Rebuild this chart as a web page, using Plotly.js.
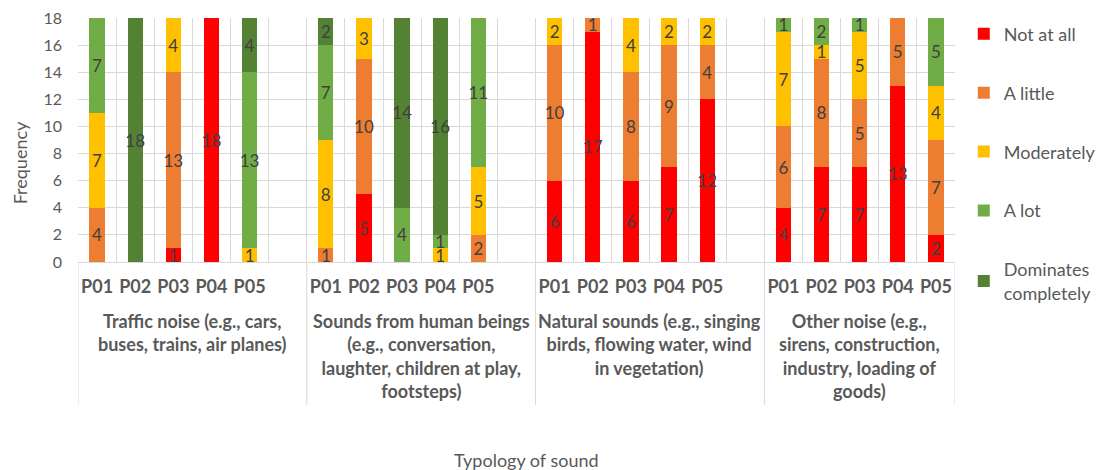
<!DOCTYPE html>
<html>
<head>
<meta charset="utf-8">
<script src="https://cdn.plot.ly/plotly-3.0.1.min.js"></script>
<style>html,body{margin:0;padding:0;background:#fff;}#chart{width:1102px;height:470px;}</style>
</head>
<body>
<div id="chart"></div>
<script>
// ---- data ----
const groups = [
  "Traffic noise (e.g., cars,<br>buses, trains, air planes)",
  "Sounds from human beings<br>(e.g., conversation,<br>laughter, children at play,<br>footsteps)",
  "Natural sounds (e.g., singing<br>birds, flowing water, wind<br>in vegetation)",
  "Other noise (e.g.,<br>sirens, construction,<br>industry, loading of<br>goods)"
];
const participants = ["P01", "P02", "P03", "P04", "P05"];
const seriesNames = ["Not at all", "A little", "Moderately", "A lot", "Dominates<br>completely"];
// values ordered group by group, P01..P05 within each group
const notAtAll   = [0,0,1,18,0,  0,5,0,0,0,    6,17,6,7,12, 4,7,7,13,2];
const aLittle    = [4,0,13,0,0,  1,10,0,0,2,   10,1,8,9,4,  6,8,5,5,7];
const moderately = [7,0,4,0,1,   8,3,0,1,5,    2,0,4,2,2,   7,1,5,0,4];
const aLot       = [7,0,0,0,13,  7,0,4,1,11,   0,0,0,0,0,   1,2,1,0,5];
const dominates  = [0,18,0,0,4,  2,0,14,16,0,  0,0,0,0,0,   0,0,0,0,0];
const yTicks = [0,2,4,6,8,10,12,14,16,18];

// ---- styles ----
const colors = ["#FF0000", "#ED7D31", "#FFC000", "#70AD47", "#548235"];
const FONT = "Lato, 'Liberation Sans', sans-serif";
const GREY = "#595959";
const GRID = "#d9d9d9";
const SLOTS = participants.length + 1; // 5 bars + 1 blank per group

const xPos = [];
const xTickVals = [], xTickText = [];
groups.forEach((g, gi) => {
  participants.forEach((p, pi) => {
    xPos.push(gi * SLOTS + pi);
    xTickVals.push(gi * SLOTS + pi);
    xTickText.push(p);
  });
});
const nSlots = groups.length * SLOTS - 1;

const allSeries = [notAtAll, aLittle, moderately, aLot, dominates];
const traces = allSeries.map((vals, i) => ({
  type: "bar",
  name: seriesNames[i],
  legendgroup: "g" + i,
  x: xPos,
  y: vals,
  text: vals.map(v => v > 0 ? String(v) : ""),
  textposition: "inside",
  insidetextanchor: "middle",
  textangle: 0,
  textfont: {family: FONT, size: 17, color: "#404040"},
  constraintext: "none",
  width: 0.4,
  marker: {color: colors[i], line: {width: 0}},
  hoverinfo: "none"
}));

// separators and group labels
const shapes = [];
for (let gi = 0; gi <= groups.length; gi++) {
  const xs = gi < groups.length ? gi * SLOTS - 0.5 : nSlots - 0.5;
  shapes.push({type: "line", xref: "x", yref: "paper", x0: xs, x1: xs, y0: 0, y1: -0.586,
    line: {color: GRID, width: 1}});
}
const annotations = groups.map((g, gi) => {
  const start = gi * SLOTS - 0.5;
  const end = Math.min(gi * SLOTS + SLOTS - 0.5, nSlots - 0.5);
  return {
    xref: "x", yref: "paper", x: (start + end) / 2, y: -0.19, yanchor: "top", xanchor: "center",
    text: g, showarrow: false, align: "center",
    font: {family: FONT, size: 18, color: GREY, weight: "bold"}
  };
});
annotations.push({
  xref: "paper", yref: "paper", x: 0.511, y: -0.81, xanchor: "center", yanchor: "middle",
  text: "Typology of sound", showarrow: false,
  font: {family: FONT, size: 18, color: GREY}
});
annotations.push({
  xref: "paper", yref: "paper", x: -0.066, y: 0.405, xanchor: "center", yanchor: "middle",
  text: "Frequency", showarrow: false, textangle: -90,
  font: {family: FONT, size: 18, color: GREY}
});

const layout = {
  width: 1102, height: 470,
  margin: {l: 78, r: 147, t: 18, b: 208, autoexpand: false},
  paper_bgcolor: "#fff", plot_bgcolor: "#fff",
  barmode: "stack",
  bargap: 0,
  uniformtext: {mode: "show", minsize: 17},
  font: {family: FONT, color: GREY},
  xaxis: {
    range: [-0.5, nSlots - 0.5],
    tickmode: "array", tickvals: xTickVals, ticktext: xTickText,
    tickfont: {family: FONT, size: 18, color: GREY, weight: "bold"},
    ticks: "outside", ticklen: 8, tickcolor: "rgba(0,0,0,0)",
    showgrid: false, zeroline: false,
    showline: true, linecolor: GRID, linewidth: 1,
    minor: {tickmode: "linear", tick0: 0.5, dtick: 1, showgrid: true, gridcolor: GRID, gridwidth: 1, ticks: ""},
    fixedrange: true
  },
  yaxis: {
    range: [0, 18],
    tickmode: "array", tickvals: yTicks, ticktext: yTicks.map(String),
    tickfont: {family: FONT, size: 16, color: GREY},
    ticks: "", ticklabelstandoff: 15,
    showgrid: true, gridcolor: GRID, gridwidth: 1,
    zeroline: false, showline: false,
    fixedrange: true
  },
  legend: {
    x: 1.01, y: 1.01, xanchor: "left", yanchor: "top",
    traceorder: "grouped", tracegroupgap: 32.5, maxheight: 400,
    font: {family: FONT, size: 18, color: GREY},
    bgcolor: "rgba(0,0,0,0)"
  },
  shapes: shapes,
  annotations: annotations,
  showlegend: true
};

Plotly.newPlot("chart", traces, layout, {displayModeBar: false, staticPlot: true});
</script>
</body>
</html>
